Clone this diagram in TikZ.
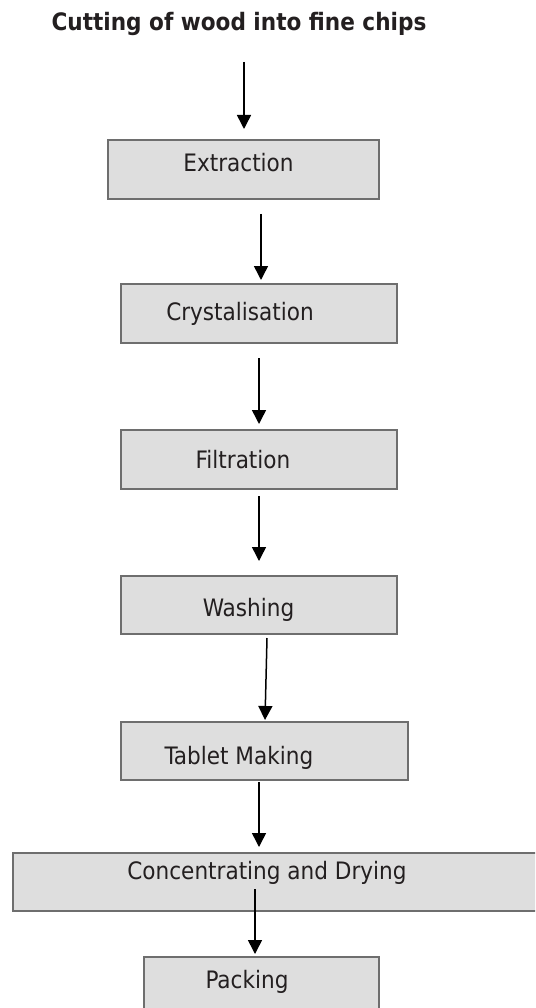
\documentclass[tikz,border=0pt]{standalone}
\usepackage{fontspec}
\setmainfont{DejaVu Sans Condensed}
\usetikzlibrary{arrows.meta}
\definecolor{boxfill}{HTML}{DEDEDE}
\definecolor{boxline}{HTML}{6E6E6E}
\definecolor{txt}{HTML}{231F20}
\tikzset{
  stepbox/.style={draw=boxline, fill=boxfill, line width=1.3pt, rectangle, inner sep=0pt},
  lbl/.style={anchor=base, inner sep=0pt, text=txt, font=\fontsize{24}{28}\selectfont},
  ttl/.style={anchor=base, inner sep=0pt, text=txt, font=\fontsize{24}{28}\selectfont\bfseries},
  arr/.style={line width=1.5pt, -{Triangle[width=14pt,length=14pt]}, shorten >=0pt}
}
\begin{document}
\begin{tikzpicture}[x=1pt,y=-1pt]
\clip (0,0) rectangle (535,1008);
\fill[white] (0,0) rectangle (535,1008);
% title
\node[ttl] (title) at (239,31) {Cutting of wood into fine chips};
% boxes
\node[stepbox, minimum width=271pt, minimum height=59pt] (ext) at (243.5,169.5) {};
\node[stepbox, minimum width=276pt, minimum height=59pt] (cry) at (259,313.5) {};
\node[stepbox, minimum width=276pt, minimum height=59pt] (fil) at (259,459.5) {};
\node[stepbox, minimum width=276pt, minimum height=58pt] (was) at (259,605) {};
\node[stepbox, minimum width=287pt, minimum height=58pt] (tab) at (264.5,751) {};
\node[stepbox, minimum width=532pt, minimum height=58pt] (con) at (279,882) {};
\node[stepbox, minimum width=235pt, minimum height=63pt] (pac) at (261.5,988.5) {};
% labels
\node[lbl] (extl) at (238.5,172) {Extraction};
\node[lbl] (cryl) at (240,320) {Crystalisation};
\node[lbl] (fill) at (243,468) {Filtration};
\node[lbl] (wasl) at (248.5,616) {Washing};
\node[lbl] (tabl) at (239,764) {Tablet Making};
\node[lbl] (conl) at (267,879) {Concentrating and Drying};
\node[lbl] (pacl) at (247,988) {Packing};
% arrow end points
\coordinate (a1s) at (244,62);  \coordinate (a1e) at (244,129);
\coordinate (a2s) at (261,214); \coordinate (a2e) at (261,280);
\coordinate (a3s) at (259,358); \coordinate (a3e) at (259,424);
\coordinate (a4s) at (259,496); \coordinate (a4e) at (259,561);
\coordinate (a5s) at (267,638); \coordinate (a5e) at (265,720);
\coordinate (a6s) at (259,782); \coordinate (a6e) at (259,847);
\coordinate (a7s) at (255,889); \coordinate (a7e) at (255,954);
\draw[arr] (a1s) -- (a1e);
\draw[arr] (a2s) -- (a2e);
\draw[arr] (a3s) -- (a3e);
\draw[arr] (a4s) -- (a4e);
\draw[arr] (a5s) -- (a5e);
\draw[arr] (a6s) -- (a6e);
\draw[arr] (a7s) -- (a7e);
\end{tikzpicture}
\end{document}
